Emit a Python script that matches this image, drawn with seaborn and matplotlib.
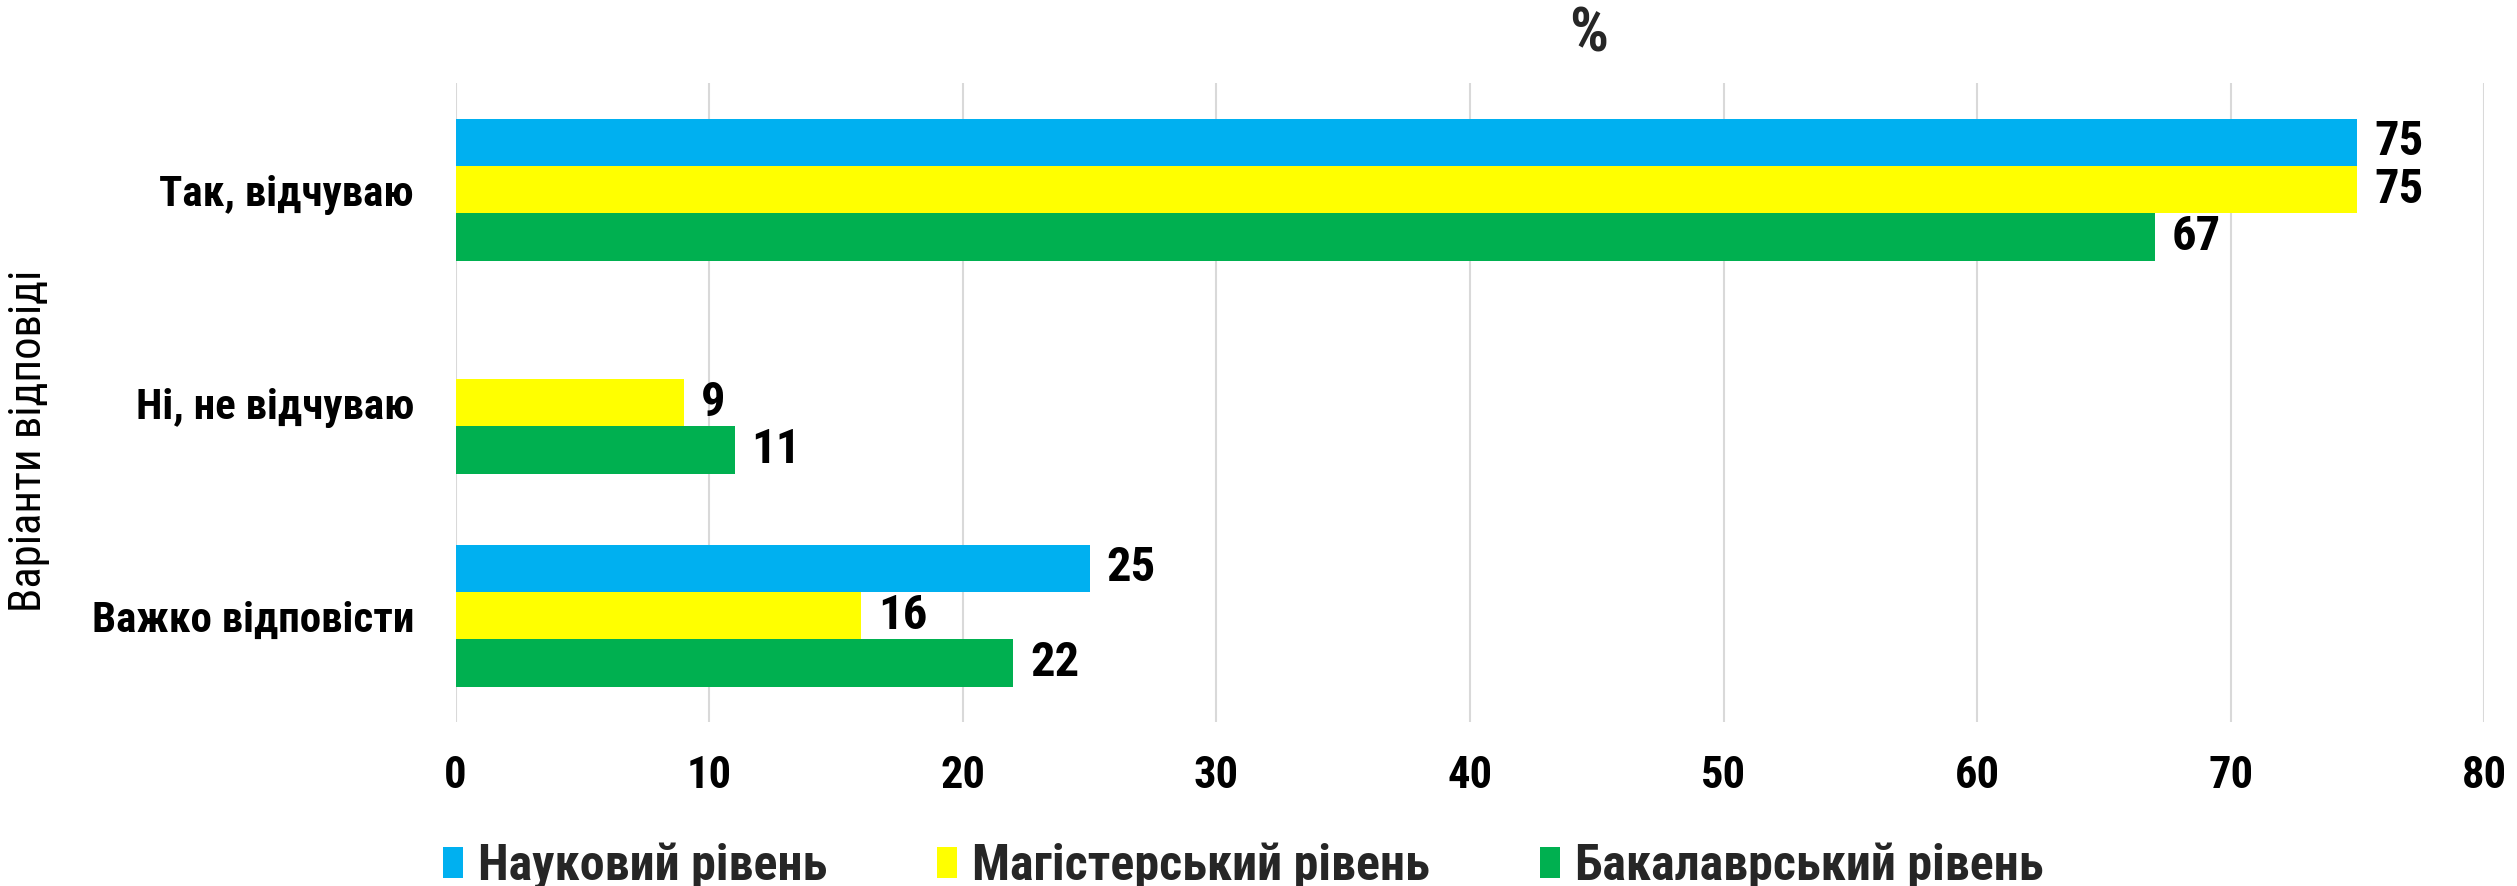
import numpy as np
import pandas as pd
import matplotlib
matplotlib.use("Agg")
import matplotlib.pyplot as plt
from matplotlib import font_manager
from matplotlib.patches import Patch
import seaborn as sns

# ---------------- data ----------------
categories = ['Так, відчуваю', 'Ні, не відчуваю', 'Важко відповісти']
series = ['Науковий рівень', 'Магістерський рівень', 'Бакалаврський рівень']
naukovyi = [75, 0, 25]
magisterskyi = [75, 9, 16]
bakalavrskyi = [67, 11, 22]
x_ticks = [0, 10, 20, 30, 40, 50, 60, 70, 80]
colors = ['#00B0F0', '#FFFF00', '#00B050']
title = '%'
y_label = 'Варіанти відповіді'

values = {series[0]: naukovyi, series[1]: magisterskyi, series[2]: bakalavrskyi}
rows = []
for s in series:
    for c, v in zip(categories, values[s]):
        rows.append({'Варіант': c, 'Рівень': s, 'Відсоток': v})
df = pd.DataFrame(rows)

# ---------------- fonts ----------------
sns.set_theme(style='white')
names = {f.name for f in font_manager.fontManager.ttflist}
family, stretch = 'Roboto', 'normal'
if 'Liberation Sans Narrow' in names:
    family, stretch = 'Liberation Sans Narrow', 'normal'
else:
    found = False
    for fam in ['Roboto Condensed', 'Open Sans Condensed', 'Noto Sans Condensed', 'DejaVu Sans Condensed']:
        if fam in names:
            family, stretch = fam, 'normal'
            found = True
            break
    if not found:
        for fam in ['Noto Sans', 'Open Sans', 'Roboto', 'DejaVu Sans']:
            cond = [f for f in font_manager.fontManager.ttflist
                    if f.name == fam and (f.stretch in ('condensed', 'semi-condensed', 'extra-condensed')
                                          or (isinstance(f.stretch, int) and f.stretch < 500))]
            if cond:
                family, stretch = fam, 'condensed'
                found = True
                break
plt.rcParams['font.family'] = [family, 'DejaVu Sans']
plt.rcParams['font.stretch'] = stretch

# ---------------- figure ----------------
fig = plt.figure(figsize=(25.17, 8.86), dpi=100)
ax = fig.add_axes([0.181, 0.185, 0.806, 0.721])

sns.barplot(data=df, y='Варіант', x='Відсоток', hue='Рівень',
            order=categories, hue_order=series, palette=colors,
            width=0.667, gap=0, orient='h', ax=ax, legend=False,
            saturation=1, edgecolor='none', linewidth=0, errorbar=None)

ax.set_xlim(0, 80)
ax.set_ylim(2.5, -0.5)
ax.set_xticks(x_ticks)
ax.set_xticklabels([str(t) for t in x_ticks])
ax.grid(axis='x', color='#D9D9D9', linewidth=1.5)
ax.grid(axis='y', visible=False)
ax.set_axisbelow(True)
for sp in ax.spines.values():
    sp.set_visible(False)
ax.set_xlabel('')
ax.set_ylabel('')
ax.tick_params(axis='x', length=0, pad=24, labelsize=32)
ax.tick_params(axis='y', length=0, pad=30, labelsize=31)
for lbl in ax.get_xticklabels() + ax.get_yticklabels():
    lbl.set_fontweight('bold')
    lbl.set_color('black')

for cont in ax.containers:
    labels = [f'{v:.0f}' if v > 0 else '' for v in cont.datavalues]
    ax.bar_label(cont, labels=labels, padding=12, fontsize=35, fontweight='bold', color='black')

fig.text(0.631, 1 - 35 / 886, title, ha='center', va='center', fontsize=44, fontweight='bold')
fig.text(29 / 2517, 1 - 441 / 886, y_label, rotation=90, ha='center', va='center', fontsize=32, color='black')

handles = [Patch(facecolor=c, edgecolor='none', label=s) for c, s in zip(colors, series)]
fig.legend(handles=handles, loc='center', bbox_to_anchor=(0.494, 0.022), ncol=3, frameon=False,
           prop={'size': 36, 'weight': 'bold'}, handlelength=0.4, handleheight=0.6,
           handletextpad=0.3, columnspacing=2.2)

fig.savefig('out.png', dpi=100)
